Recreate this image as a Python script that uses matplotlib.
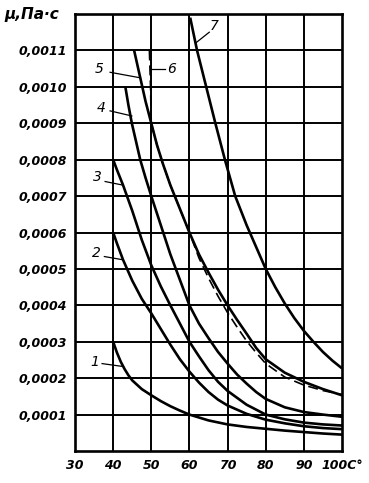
import matplotlib.pyplot as plt

# temperature, deg C  /  viscosity, Pa*s
t1 = [40, 41, 42, 43, 44, 45, 47.5, 50, 52.5, 55, 57.5, 60, 65, 70, 75, 80, 85, 90, 95, 100]
mu1 = [0.0003, 0.00027, 0.000245, 0.000225, 0.000208, 0.000194, 0.00017, 0.000153,
       0.000137, 0.000123, 0.000111, 0.0001, 0.000084, 0.000073, 0.000066, 0.000061,
       0.000056, 0.000052, 0.000048, 0.000045]

t2 = [40, 41, 42.6, 45, 47.5, 50, 52.5, 55, 57.5, 60, 62.5, 65, 67.5, 70, 75, 80, 85, 90, 95, 100]
mu2 = [0.0006, 0.00057, 0.000525, 0.000468, 0.000418, 0.000378, 0.000335, 0.000292,
       0.000252, 0.000218, 0.000188, 0.000162, 0.000141, 0.000125, 0.000102, 0.000086,
       0.000076, 0.000068, 0.000063, 0.00006]

t3 = [40, 41, 42.6, 45, 47.5, 50, 52.5, 55, 57.5, 60, 62.5, 65, 67.5, 70, 75, 80, 85, 90, 95, 100]
mu3 = [0.0008, 0.000772, 0.00073, 0.00066, 0.00058, 0.00051, 0.000452, 0.0004,
       0.00035, 0.0003, 0.00026, 0.000222, 0.00019, 0.000165, 0.000127, 0.0001,
       0.000087, 0.000078, 0.000073, 0.00007]

t4 = [43.2, 44, 44.9, 46, 47.1, 48.5, 50, 52.5, 55, 57.5, 60, 62.5, 65, 67.5, 70, 72.5,
      75, 77.5, 80, 85, 90, 95, 100]
mu4 = [0.001, 0.00095, 0.0009, 0.00085, 0.0008, 0.00075, 0.0007, 0.00062, 0.00054,
       0.00047, 0.0004, 0.00035, 0.00031, 0.000272, 0.00024, 0.00021, 0.000185,
       0.000162, 0.000143, 0.00012, 0.000107, 0.0001, 0.000094]

t5 = [45.5, 47, 48.5, 50, 51.5, 53, 55, 57.5, 60, 62.5, 65, 67.5, 70, 72.5, 75, 77.5,
      80, 85, 90, 95, 100]
mu5 = [0.0011, 0.00103, 0.00096, 0.0009, 0.00084, 0.00079, 0.00073, 0.000665, 0.0006,
       0.00054, 0.00049, 0.000443, 0.0004, 0.00036, 0.000322, 0.000283, 0.000252,
       0.000215, 0.00019, 0.00017, 0.000153]

t6 = [49.5, 49.8, 50, 51.5, 53, 55, 57.5, 60, 62.5, 65, 67.5, 70, 72.5, 75, 77.5, 80,
      85, 90, 95, 100]
mu6 = [0.0011, 0.001, 0.0009, 0.00084, 0.00079, 0.00073, 0.000665, 0.0006, 0.00053,
       0.000475, 0.000425, 0.00038, 0.00034, 0.000302, 0.00027, 0.00024, 0.000203,
       0.000181, 0.000166, 0.000155]

t7 = [60.2, 62, 64.4, 66.8, 69.3, 72, 75, 77.5, 80, 82.5, 85, 87.5, 90, 92.5, 95, 97.5, 100]
mu7 = [0.00119, 0.0011, 0.001, 0.0009, 0.0008, 0.0007, 0.00062, 0.00056, 0.0005,
       0.00045, 0.000405, 0.000365, 0.00033, 0.0003, 0.000272, 0.000248, 0.000227]

x_ticks = [30, 40, 50, 60, 70, 80, 90, 100]
x_labels = ['30', '40', '50', '60', '70', '80', '90', '100C°']
y_ticks = [0.0001, 0.0002, 0.0003, 0.0004, 0.0005, 0.0006, 0.0007, 0.0008,
           0.0009, 0.0010, 0.0011]

# curve labels: text, text position, leader start, leader end
curve_labels = [
    ('1', (35.3, 0.000244), (37.1, 0.00024), (42.6, 0.000232)),
    ('2', (35.6, 0.000545), (37.7, 0.000534), (42.6, 0.000525)),
    ('3', (35.8, 0.000753), (37.9, 0.00074), (42.6, 0.00073)),
    ('4', (36.9, 0.000942), (39.2, 0.000934), (44.9, 0.00092)),
    ('5', (36.4, 0.00105), (39.2, 0.00104), (47.0, 0.001025)),
    ('6', (55.4, 0.00105), (53.6, 0.00105), (49.7, 0.00105)),
    ('7', (66.4, 0.001167), (65.2, 0.00115), (61.6, 0.00112)),
]

fig = plt.figure(figsize=(3.69, 4.83), dpi=100)
ax = fig.add_axes([75 / 369, 32 / 483, 267 / 369, 437 / 483])

ax.set_xlim(30, 100)
ax.set_ylim(0, 0.0012)

for v in x_ticks[1:-1]:
    ax.axvline(v, color='black', lw=1.4, zorder=1)
for v in y_ticks:
    ax.axhline(v, color='black', lw=1.4, zorder=1)

for t, mu in [(t1, mu1), (t2, mu2), (t3, mu3), (t4, mu4), (t5, mu5), (t7, mu7)]:
    ax.plot(t, mu, color='black', lw=1.9, zorder=3, solid_capstyle='butt',
            solid_joinstyle='round')
ax.plot(t6, mu6, color='black', lw=1.2, dashes=(6, 3), zorder=3)

for txt, pos, p0, p1 in curve_labels:
    ax.plot([p0[0], p1[0]], [p0[1], p1[1]], color='black', lw=0.9, zorder=3)
    ax.text(pos[0], pos[1], txt, ha='center', va='center', fontsize=10,
            style='italic', color='black')

ax.set_xticks(x_ticks)
ax.set_xticklabels(x_labels, fontsize=9, style='italic', fontweight='bold')
ax.set_yticks(y_ticks)
ax.set_yticklabels([f'{v:.4f}'.replace('.', ',') for v in y_ticks], fontsize=9,
                   style='italic', fontweight='bold')
ax.tick_params(axis='both', length=0, pad=6)

for s in ax.spines.values():
    s.set_linewidth(1.9)
    s.set_color('black')

fig.text(0.012, 1 - 15 / 483, 'μ,Па·с', fontsize=11, style='italic', fontweight='bold',
         ha='left', va='center')

fig.savefig('out.png', dpi=100)
